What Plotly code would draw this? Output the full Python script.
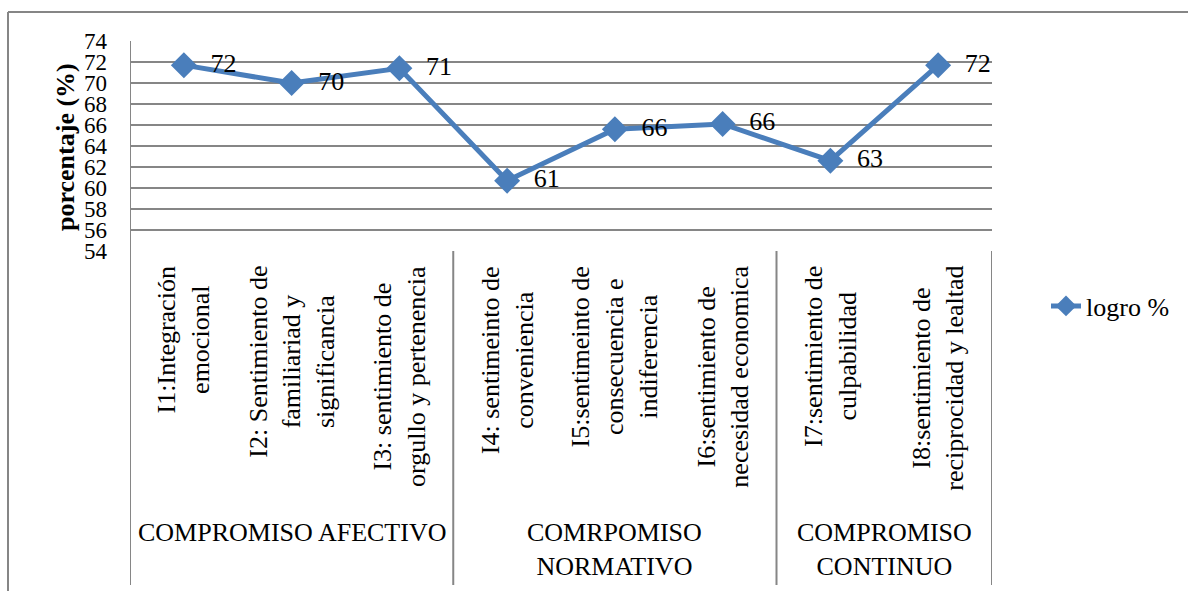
import plotly.graph_objects as go

indicators = [
    "I1:Integración<br>emocional",
    "I2: Sentimiento de<br>familiariad y<br>significancia",
    "I3: sentimiento de<br>orgullo y pertenencia",
    "I4: sentimeinto de<br>conveniencia",
    "I5:sentimeinto de<br>consecuencia e<br>indiferencia",
    "I6:sentimiento de<br>necesidad economica",
    "I7:sentimiento de<br>culpabilidad",
    "I8:sentimiento de<br>reciprocidad y lealtad",
]
groups = ["COMPROMISO AFECTIVO", "COMRPOMISO<br>NORMATIVO", "COMPROMISO<br>CONTINUO"]
group_sizes = [3, 3, 2]
logro = [71.7, 70.0, 71.4, 60.7, 65.6, 66.1, 62.6, 71.7]
y_ticks = list(range(54, 75, 2))
series_name = "logro %"

W, H = 1188, 591
L, R, T, B = 130, 196, 41, 340
PW, PH = W - L - R, H - T - B
FONT = "Liberation Serif"
GRID = "#868686"
BLUE = "#4A7EBB"


def py(p):  # pixel y -> paper y
    return 1 - (p - T) / PH


def px(p):  # pixel x -> paper x
    return (p - L) / PW


xs = list(range(len(indicators)))

fig = go.Figure()
fig.add_trace(go.Scatter(
    x=xs, y=logro, name=series_name,
    mode="lines+markers+text",
    line=dict(color=BLUE, width=5),
    marker=dict(symbol="diamond", size=20, color=BLUE),
    texttemplate="  %{y:.0f}",
    textposition="middle right",
    textfont=dict(family=FONT, size=26, color="black"),
    cliponaxis=False,
))

shapes = []
# outer chart border (top and left)
shapes.append(dict(type="line", xref="paper", yref="paper",
                   x0=px(8), x1=px(W + 5), y0=py(12), y1=py(12),
                   line=dict(color=GRID, width=2)))
shapes.append(dict(type="line", xref="paper", yref="paper",
                   x0=px(8), x1=px(8), y0=py(12), y1=py(H + 5),
                   line=dict(color=GRID, width=2)))
# left axis line
shapes.append(dict(type="line", xref="x", yref="paper",
                   x0=-0.5, x1=-0.5, y0=1, y1=py(585),
                   line=dict(color=GRID, width=2)))
# group separators
pos = -0.5
for s in group_sizes:
    pos += s
    shapes.append(dict(type="line", xref="x", yref="paper",
                       x0=pos, x1=pos, y0=0, y1=py(585),
                       line=dict(color=GRID, width=2)))

annotations = []
for i, lab in enumerate(indicators):
    annotations.append(dict(
        x=i, y=py(264), xref="x", yref="paper", text=lab,
        textangle=-90, showarrow=False, xanchor="center", yanchor="top",
        align="center", font=dict(family=FONT, size=26, color="black")))
start = -0.5
for g, s in zip(groups, group_sizes):
    annotations.append(dict(
        x=start + s / 2, y=py(516), xref="x", yref="paper", text=g,
        showarrow=False, xanchor="center", yanchor="top", align="center",
        font=dict(family=FONT, size=26, color="black")))
    start += s
annotations.append(dict(
    x=px(65), y=py(147), xref="paper", yref="paper",
    text="<b>porcentaje (%)</b>", textangle=-90, showarrow=False,
    xanchor="center", yanchor="middle",
    font=dict(family=FONT, size=26, color="black")))

fig.update_layout(
    width=W, height=H,
    margin=dict(l=L, r=R, t=T, b=B, pad=0),
    paper_bgcolor="white", plot_bgcolor="white",
    font=dict(family=FONT, size=26, color="black"),
    showlegend=True,
    legend=dict(x=px(1046), y=py(306), xanchor="left", yanchor="middle",
                font=dict(family=FONT, size=26, color="black"),
                bgcolor="rgba(0,0,0,0)", borderwidth=0),
    xaxis=dict(range=[-0.5, 7.5], showticklabels=False, showgrid=False,
               zeroline=False, showline=False, ticks=""),
    yaxis=dict(range=[54, 74], tickmode="array", tickvals=y_ticks,
               ticktext=[str(v) for v in y_ticks],
               showgrid=True, gridcolor=GRID, gridwidth=2,
               zeroline=False, showline=False, ticks="",
               ticklabelstandoff=22,
               tickfont=dict(family=FONT, size=23, color="black")),
    shapes=shapes,
    annotations=annotations,
)

fig.write_html("out.html")
